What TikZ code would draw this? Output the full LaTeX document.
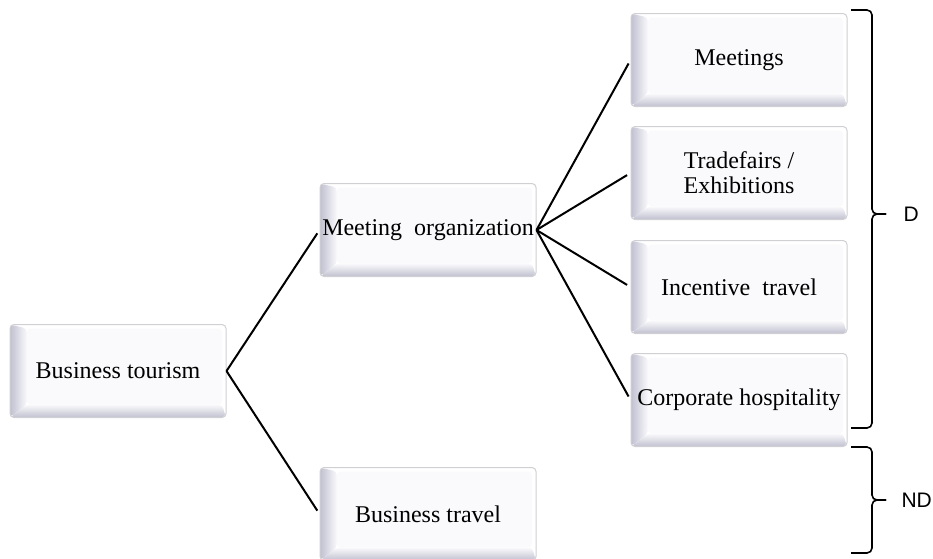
\documentclass[tikz,border=0pt]{standalone}
\usepackage{fontspec}
\setmainfont{Liberation Serif}
\newfontfamily\bracefont{Liberation Sans}
\definecolor{bevel}{RGB}{192,192,208}
\definecolor{face}{RGB}{250,250,252}
\definecolor{rim}{RGB}{208,208,212}
\tikzset{
  bevelbox/.style={minimum width=216pt, minimum height=93pt, inner sep=2pt,
    rounded corners=4pt, draw=rim, line width=1pt, align=center,
    font=\fontsize{24}{25}\selectfont,
    path picture={
      \path (path picture bounding box.south west) coordinate (bsw)
            (path picture bounding box.north east) coordinate (bne)
            (path picture bounding box.north west) coordinate (bnw)
            (path picture bounding box.south east) coordinate (bse);
      \fill[white] (bsw) rectangle (bne);
      \shade[left color=bevel, right color=face] (bsw) -- (bnw) -- ([shift={(17pt,-4pt)}]bnw) -- ([shift={(17pt,13pt)}]bsw) -- cycle;
      \shade[bottom color=bevel, top color=face] (bsw) -- ([shift={(17pt,13pt)}]bsw) -- ([shift={(-4pt,13pt)}]bse) -- (bse) -- cycle;
      \fill[face] ([shift={(17pt,13pt)}]bsw) rectangle ([shift={(-4pt,-4pt)}]bne);
    }},
  link/.style={line width=2pt, shorten >=4pt},
  bracket/.style={line width=1.6pt, rounded corners=5pt}
}
\begin{document}
\begin{tikzpicture}[x=1pt,y=-1pt]
      \useasboundingbox (0,0) rectangle (933,558);
      \node[bevelbox] (tour) at (118,371) {Business tourism};
      \node[bevelbox] (meetorg) at (428,230) {Meeting\ \ organization};
      \node[bevelbox] (bustravel) at (428,514) {Business travel};
      \node[bevelbox] (meetings) at (739,60) {Meetings};
      \node[bevelbox] (fairs) at (739,173) {Tradefairs /\\Exhibitions};
      \node[bevelbox] (incentive) at (739,287) {Incentive\ \ travel};
      \node[bevelbox] (hospitality) at (739,400) {Corporate hospitality};
      \draw[link] (tour.east) -- (meetorg.west);
      \draw[link] (tour.east) -- (bustravel.west);
      \foreach \target in {meetings,fairs,incentive,hospitality}
        \draw[link] (meetorg.east) -- (\target.west);
      % brackets
      \draw[bracket] (851,10) -- (872,10) -- (872,214) -- (886,214);
      \draw[bracket] (886,214) -- (872,214) -- (872,428) -- (851,428);
      \draw[bracket] (851,447) -- (872,447) -- (872,500) -- (886,500);
      \draw[bracket] (886,500) -- (872,500) -- (872,553) -- (851,553);
      \node[anchor=west,font=\bracefont\fontsize{21}{22}\selectfont] (dlabel) at (900,214) {D};
      \node[anchor=west,font=\bracefont\fontsize{21}{22}\selectfont] (ndlabel) at (898,500) {ND};
    \end{tikzpicture}
\end{document}
